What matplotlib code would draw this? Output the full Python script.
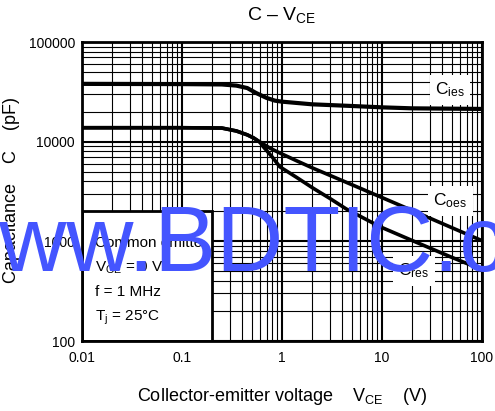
#!/usr/bin/env python3
import numpy as np  # type: ignore
import matplotlib  # type: ignore
matplotlib.use("Agg")
import matplotlib.pyplot as plt  # type: ignore
from matplotlib.patches import Rectangle  # type: ignore
from matplotlib.ticker import FixedLocator, LogLocator, NullFormatter  # type: ignore

plt.rcParams["font.family"] = ["Liberation Sans", "DejaVu Sans"]
plt.rcParams["mathtext.fontset"] = "custom"
plt.rcParams["mathtext.rm"] = "Liberation Sans"
plt.rcParams["mathtext.it"] = "Liberation Sans"

# values (V, pF)
cies_v = [0.01, 0.1, 0.25, 0.35, 0.45, 0.55, 0.7, 0.85, 1, 2, 5, 10, 20, 100]
cies_c = [38000, 37800, 37500, 36500, 34500, 30800, 27500, 25800, 25200,
          23700, 22800, 22100, 21600, 21300]

coes_v = [0.01, 0.1, 0.25, 0.35, 0.45, 0.52, 0.6, 0.76, 0.95, 1.4, 2.05, 4,
          9.5, 20, 50, 100]
coes_c = [13800, 13800, 13700, 12800, 11700, 10900, 9930, 8600, 7700, 6430,
          5410, 4070, 2810, 2040, 1370, 1015]

cres_v = [0.01, 0.1, 0.25, 0.35, 0.45, 0.52, 0.6, 0.65, 0.8, 0.95, 1.4, 2.05,
          3, 4.4, 9.5, 20, 50, 100]
cres_c = [13800, 13800, 13700, 12800, 11700, 10900, 9900, 8900, 7000, 5600,
          4380, 3410, 2700, 2110, 1405, 1020, 690, 520]

x_ticks = [0.01, 0.1, 1, 10, 100]
x_ticklabels = ["0.01", "0.1", "1", "10", "100"]
y_ticks = [100, 1000, 10000, 100000]
y_ticklabels = ["100", "1000", "10000", "100000"]

conditions = ["Common emitte", r"V$_{\rm GE}$ = 0 V", "f = 1 MHz",
              r"T$_{\rm j}$ = 25°C"]

W, H = 495, 411
fig = plt.figure(figsize=(W / 100, H / 100), dpi=100)
ax = fig.add_axes([82 / W, 70 / H, 400 / W, 299 / H])

ax.set_xscale("log")
ax.set_yscale("log")
ax.set_xlim(0.01, 100)
ax.set_ylim(100, 100000)

ax.xaxis.set_major_locator(FixedLocator(x_ticks))
ax.yaxis.set_major_locator(FixedLocator(y_ticks))
ax.set_xticklabels(x_ticklabels)
ax.set_yticklabels(y_ticklabels)
ax.xaxis.set_minor_locator(LogLocator(base=10, subs=np.arange(2, 10)))
ax.yaxis.set_minor_locator(LogLocator(base=10, subs=np.arange(2, 10)))
ax.xaxis.set_minor_formatter(NullFormatter())
ax.yaxis.set_minor_formatter(NullFormatter())
ax.tick_params(which="both", length=0, labelsize=10, colors="black")
ax.tick_params(axis="x", pad=7)
ax.tick_params(axis="y", pad=5)

ax.grid(which="major", color="black", lw=1.5)
ax.grid(which="minor", color="black", lw=0.8)
for sp in ax.spines.values():
    sp.set_linewidth(2)

# condition box in the lower left corner
ax.add_patch(Rectangle((0.01, 100), 0.2 - 0.01, 2020 - 100, facecolor="white",
                       edgecolor="black", lw=2, zorder=2))
for i, line in enumerate(conditions):
    ax.text(0.033, 0.313 - i * 0.082, line, transform=ax.transAxes,
            fontsize=11, va="baseline", ha="left", zorder=3)

ax.plot(cies_v, cies_c, color="black", lw=3, zorder=4, solid_capstyle="butt")
ax.plot(coes_v, coes_c, color="black", lw=2.6, zorder=4, solid_capstyle="butt")
ax.plot(cres_v, cres_c, color="black", lw=2.6, zorder=4, solid_capstyle="butt")

box = dict(facecolor="white", edgecolor="none", pad=4)
ax.text(47.9, 33000, r"C$_{\rm ies}$", fontsize=12.5, ha="center", va="center",
        bbox=box, zorder=5)
ax.text(47.9, 2540, r"C$_{\rm oes}$", fontsize=12.5, ha="center", va="center",
        bbox=box, zorder=5)
ax.text(20.9, 505, r"C$_{\rm res}$", fontsize=12.5, ha="center", va="center",
        bbox=box, zorder=5)

fig.text(282 / W, 1 - 15 / H, r"C – V$_{\rm CE}$", fontsize=14, ha="center",
         va="center")
fig.text(282 / W, 1 - 396 / H,
         r"Collector-emitter voltage    V$_{\rm CE}$    (V)",
         fontsize=13, ha="center", va="center")
fig.text(12 / W, 1 - 190 / H, "Capacitance    C    (pF)", fontsize=13,
         rotation=90, ha="center", va="center")

# watermark
fig.text(-68 / W, 1 - 271 / H, "www.BDTIC.com", fontsize=67, color="#4455ff",
         ha="left", va="baseline", zorder=10)

fig.savefig("out.png", dpi=100)
